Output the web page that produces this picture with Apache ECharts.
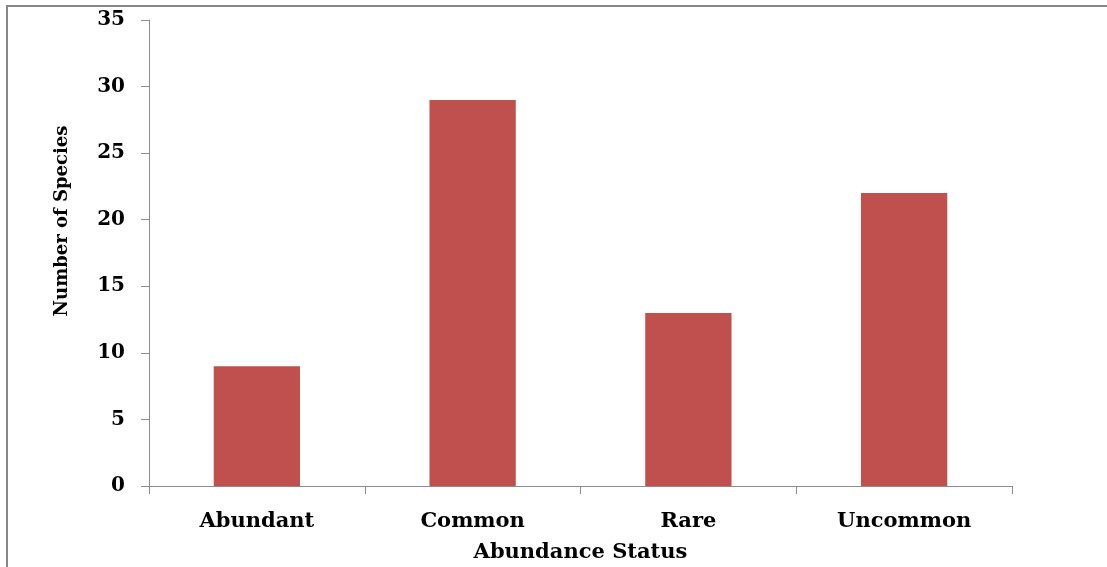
<!DOCTYPE html>
<html>
<head>
<meta charset="utf-8">
<script src="https://cdn.jsdelivr.net/npm/echarts@6/dist/echarts.min.js"></script>
<style>
  html, body { margin: 0; padding: 0; background: #fff; }
  #chart { width: 1107px; height: 567px; }
</style>
</head>
<body>
<div id="chart"></div>
<script>
// categories and values
const categories = ['Abundant', 'Common', 'Rare', 'Uncommon'];
const speciesCount = [9, 29, 13, 22];

const chart = echarts.init(document.getElementById('chart'));
const serif = 'DejaVu Serif';

const options = {
  animation: false,
  backgroundColor: '#fff',
  grid: { left: 149, right: 95, top: 20, bottom: 81, outerBoundsMode: 'none' },
  xAxis: {
    type: 'category',
    data: categories,
    name: 'Abundance Status',
    nameLocation: 'middle',
    nameGap: 56,
    nameTextStyle: { fontFamily: serif, fontWeight: 'bold', fontSize: 21, color: '#000' },
    axisLine: { lineStyle: { color: '#8c8c8c', width: 1 } },
    axisTick: { show: true, alignWithLabel: false, length: 8, lineStyle: { color: '#8c8c8c' } },
    axisLabel: { margin: 25, fontFamily: serif, fontWeight: 'bold', fontSize: 21, color: '#000' }
  },
  yAxis: {
    type: 'value',
    min: 0,
    max: 35,
    interval: 5,
    axisLine: { show: true, lineStyle: { color: '#8c8c8c', width: 1 } },
    axisTick: { show: true, length: 8, lineStyle: { color: '#8c8c8c' } },
    axisLabel: { margin: 24, fontFamily: serif, fontWeight: 'bold', fontSize: 20, color: '#000' },
    splitLine: { show: false }
  },
  graphic: [
    {
      // outer frame of the chart
      type: 'rect',
      shape: { x: 7, y: 6, width: 1200, height: 700 },
      style: { fill: 'none', stroke: '#888', lineWidth: 2 },
      silent: true
    },
    {
      // y axis title
      type: 'text',
      x: 62,
      y: 221,
      rotation: Math.PI / 2,
      style: {
        text: 'Number of Species',
        fontFamily: serif,
        fontWeight: 'bold',
        fontSize: 18,
        fill: '#000',
        align: 'center',
        verticalAlign: 'middle'
      }
    }
  ],
  series: [
    {
      type: 'bar',
      data: speciesCount,
      barWidth: '40%',
      itemStyle: { color: '#C0504D' }
    }
  ]
};

chart.setOption(options);
</script>
</body>
</html>
